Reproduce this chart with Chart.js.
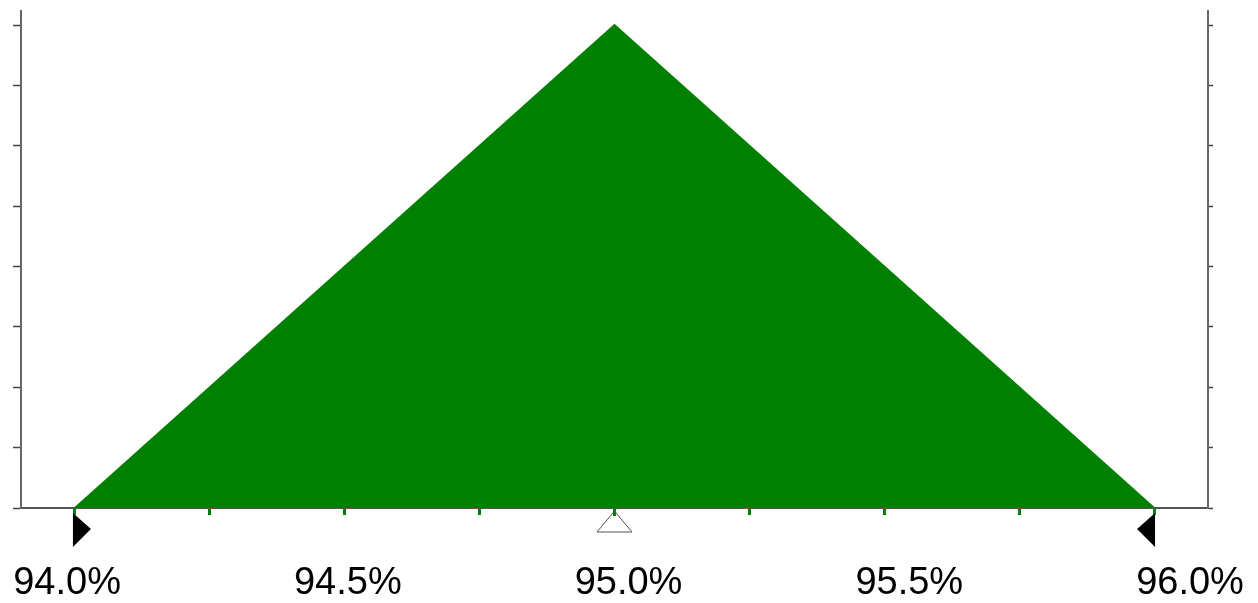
<!DOCTYPE html>
<html>
<head>
<meta charset="utf-8">
<script src="https://cdn.jsdelivr.net/npm/chart.js@4/dist/chart.umd.min.js"></script>
<style>
  html,body{margin:0;padding:0;background:#fff;}
  #wrap{width:1258px;height:603px;position:relative;}
</style>
</head>
<body>
<div id="wrap"><canvas id="c"></canvas></div>
<script>
// Triangular distribution: min, mode, max (percent)
const xValues = [94.0, 95.0, 96.0];
const yValues = [0, 1, 0];
const xTickLabels = [94.0, 94.5, 95.0, 95.5, 96.0];
const xMinorTicks = [94.0, 94.25, 94.5, 94.75, 95.0, 95.25, 95.5, 95.75, 96.0];
const markerLeft = 94.0;
const markerMode = 95.0;
const markerRight = 96.0;

const points = xValues.map((x, i) => ({x: x, y: yValues[i]}));

const markerPlugin = {
  id: 'markers',
  afterDraw(chart) {
    const ctx = chart.ctx;
    const xs = chart.scales.x;
    const ca = chart.chartArea;
    const b = ca.bottom;
    ctx.save();
    // left black triangle (pointing right)
    let px = xs.getPixelForValue(markerLeft);
    ctx.fillStyle = '#000';
    ctx.beginPath();
    ctx.moveTo(px - 2, b + 5);
    ctx.lineTo(px + 16, b + 21);
    ctx.lineTo(px - 2, b + 39);
    ctx.closePath();
    ctx.fill();
    // right black triangle (pointing left)
    px = xs.getPixelForValue(markerRight);
    ctx.beginPath();
    ctx.moveTo(px + 1, b + 5);
    ctx.lineTo(px - 17, b + 21);
    ctx.lineTo(px + 1, b + 39);
    ctx.closePath();
    ctx.fill();
    // mode white triangle
    px = xs.getPixelForValue(markerMode);
    ctx.fillStyle = '#fff';
    ctx.strokeStyle = '#555';
    ctx.lineWidth = 1;
    ctx.beginPath();
    ctx.moveTo(px, b + 3);
    ctx.lineTo(px - 17.5, b + 24);
    ctx.lineTo(px + 17.5, b + 24);
    ctx.closePath();
    ctx.fill();
    ctx.stroke();
    // green tick over triangle apex
    ctx.strokeStyle = '#008000';
    ctx.lineWidth = 3;
    ctx.beginPath();
    ctx.moveTo(px, b);
    ctx.lineTo(px, b + 8);
    ctx.stroke();
    ctx.restore();
  }
};

const yTicks = (scale) => {
  const t = [];
  for (let i = 0; i <= 8; i++) t.push({value: i * 0.125});
  scale.ticks = t;
};

new Chart(document.getElementById('c'), {
  type: 'line',
  data: {
    datasets: [{
      data: points,
      borderColor: '#008000',
      backgroundColor: '#008000',
      borderWidth: 2,
      fill: 'origin',
      pointRadius: 0,
      tension: 0
    }]
  },
  options: {
    responsive: true,
    maintainAspectRatio: false,
    animation: false,
    layout: {padding: {left: 13, right: 45, top: 11, bottom: 2}},
    plugins: {legend: {display: false}, tooltip: {enabled: false}},
    scales: {
      x: {
        type: 'linear',
        position: 'bottom',
        min: 93.9,
        max: 96.1,
        afterBuildTicks(scale) {
          scale.ticks = xMinorTicks.map(v => ({value: v}));
        },
        afterFit(scale) {
          scale.height = 7;
          scale.paddingLeft = 0;
          scale.paddingRight = 0;
        },
        grid: {
          drawOnChartArea: false,
          drawTicks: true,
          tickLength: 7,
          tickWidth: 3,
          color: '#008000'
        },
        border: {display: true, color: '#555', width: 2},
        ticks: {display: false}
      },
      xLabels: {
        type: 'linear',
        position: 'bottom',
        min: 93.918,
        max: 96.032,
        afterBuildTicks(scale) {
          scale.ticks = xTickLabels.map(v => ({value: v}));
        },
        afterFit(scale) {
          scale.height = 86;
          scale.paddingLeft = 0;
          scale.paddingRight = 0;
        },
        grid: {display: false, drawOnChartArea: false},
        border: {display: false},
        ticks: {
          autoSkip: false,
          maxRotation: 0,
          padding: 38,
          color: '#000',
          font: {family: 'Liberation Sans, Arial, sans-serif', size: 38},
          callback(v) { return Number(v).toFixed(1) + '%'; }
        }
      },
      y: {
        position: 'left',
        min: 0,
        max: 1.029,
        afterBuildTicks: yTicks,
        grid: {drawOnChartArea: false, drawTicks: true, tickLength: 8, color: '#444', tickWidth: 1.5},
        border: {display: true, color: '#666', width: 2},
        ticks: {display: true, padding: 0, callback: () => ''}
      },
      y2: {
        position: 'right',
        min: 0,
        max: 1.029,
        afterBuildTicks: yTicks,
        grid: {drawOnChartArea: false, drawTicks: true, tickLength: 5, color: '#444', tickWidth: 1.5},
        border: {display: true, color: '#666', width: 2},
        ticks: {display: true, padding: 0, callback: () => ''}
      }
    }
  },
  plugins: [markerPlugin]
});
</script>
</body>
</html>
